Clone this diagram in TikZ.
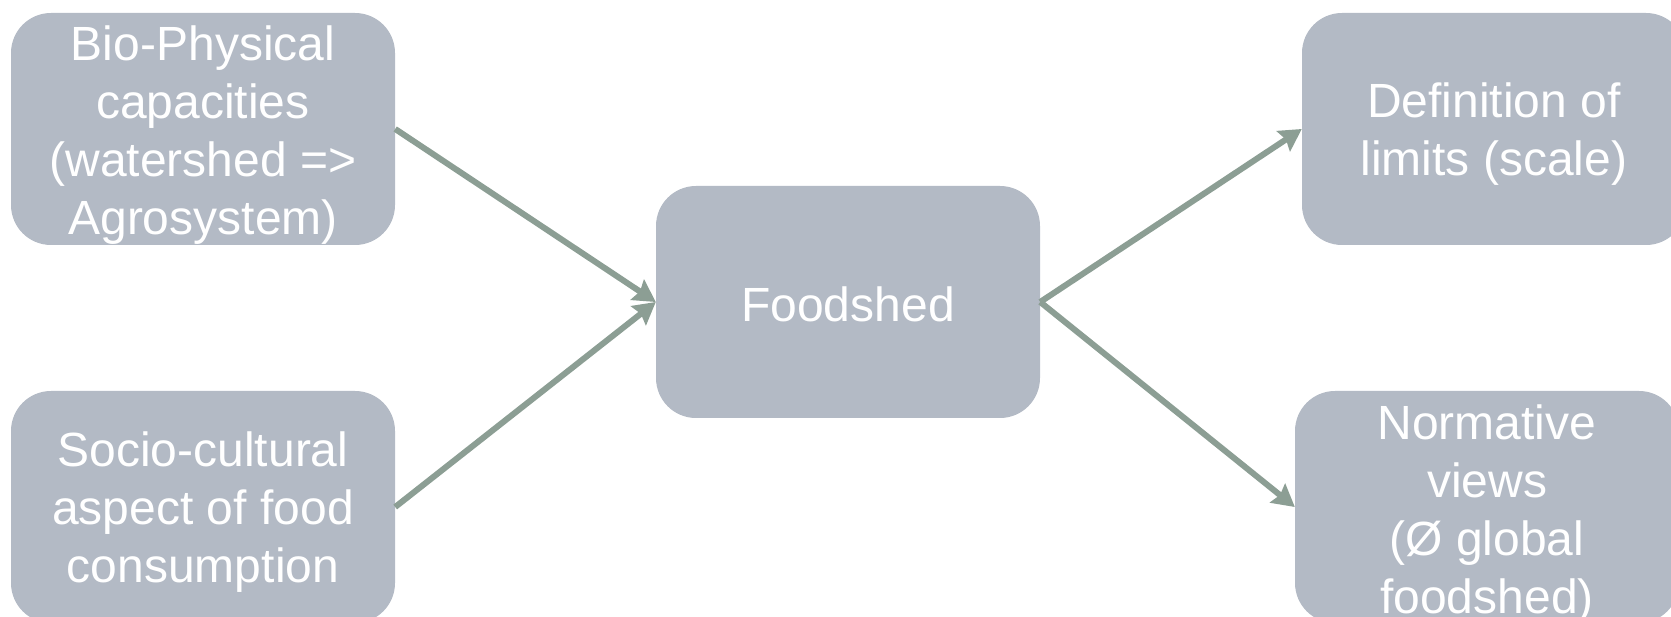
\documentclass[tikz,border=0pt]{standalone}
\usepackage{fontspec}
\setmainfont{Liberation Sans}
\usetikzlibrary{arrows.meta}
\definecolor{boxfill}{RGB}{179,186,197}
\definecolor{arrowcol}{RGB}{140,158,148}
\begin{document}
\begin{tikzpicture}[x=1pt,y=-1pt,
  box/.style={rectangle, rounded corners=40pt, fill=boxfill, draw=none,
    minimum width=384pt, minimum height=232pt, inner sep=0pt},
  boxtext/.style={text=white, align=center, inner sep=0pt,
    font=\fontsize{48}{58}\selectfont},
  conn/.style={draw=arrowcol, line width=6pt,
    -{Stealth[length=22pt, width=24pt, inset=3pt]}}]
\useasboundingbox (0,0) rectangle (1671,617);
\node[box] (bio) at (203,129) {};
\node[box] (socio) at (203,507) {};
\node[box] (food) at (848,302) {};
\node[box] (def) at (1494,129) {};
\node[box] (norm) at (1487,507) {};
\node[boxtext] (biot) at ([yshift=-6pt]bio.center) {Bio-Physical\\capacities\\(watershed =>\\Agrosystem)};
\node[boxtext] (sociot) at ([yshift=-5pt]socio.center) {Socio-cultural\\aspect of food\\consumption};
\node[boxtext] (foodt) at ([yshift=-2pt]food.center) {Foodshed};
\node[boxtext] (deft) at ([yshift=-5pt]def.center) {Definition of\\limits (scale)};
\node[boxtext] (normt) at ([yshift=-7pt]norm.center) {Normative\\views\\(Ø global\\foodshed)};
\draw[conn] (bio.east) -- (food.west);
\draw[conn] (socio.east) -- (food.west);
\draw[conn] (food.east) -- (def.west);
\draw[conn] (food.east) -- (norm.west);
\end{tikzpicture}
\end{document}
